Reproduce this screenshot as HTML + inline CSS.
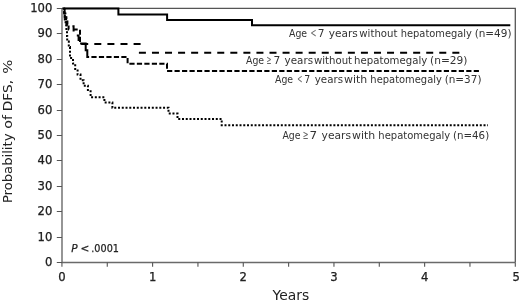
<!DOCTYPE html>
<html><head><meta charset="utf-8"><style>
html,body{margin:0;padding:0;background:#fff;width:520px;height:302px;overflow:hidden}
svg{position:absolute;left:0;top:0;display:block}
text{font-family:"DejaVu Sans","Liberation Sans",sans-serif;fill:#222}
.tk text{stroke:#111;stroke-width:0.25}
.pv text{stroke:#222;stroke-width:0.25}
.lab text{fill:#333}
</style></head><body>
<svg width="520" height="302" viewBox="0 0 520 302">
<rect width="520" height="302" fill="#fff"/>
<g fill="none">
<path d="M62 8.45H515.3V262.5" stroke="#555" stroke-width="1.3"/>
<path d="M62 8.4V262.5H515.3" stroke="#6a6a6a" stroke-width="1.4"/>
</g>
<g stroke="#555" stroke-width="1.1">
<path d="M56.8 8.5H62M56.8 33.5H62M56.8 59.5H62M56.8 84.5H62M56.8 110.5H62M56.8 135.5H62M56.8 160.5H62M56.8 186.5H62M56.8 211.5H62M56.8 237.5H62M56.8 262.5H62"/>
<path d="M61.93 262.5V266.8M107.27 262.5V266.8M152.60 262.5V266.8M197.94 262.5V266.8M243.28 262.5V266.8M288.62 262.5V266.8M333.95 262.5V266.8M379.29 262.5V266.8M424.63 262.5V266.8M469.96 262.5V266.8M515.30 262.5V266.8"/>
</g>
<g font-size="11.6" text-anchor="end" class="tk">
<text x="52.3" y="11.9">100</text>
<text x="52.3" y="36.9">90</text>
<text x="52.3" y="62.9">80</text>
<text x="52.3" y="87.9">70</text>
<text x="52.3" y="113.9">60</text>
<text x="52.3" y="138.9">50</text>
<text x="52.3" y="163.9">40</text>
<text x="52.3" y="189.9">30</text>
<text x="52.3" y="214.9">20</text>
<text x="52.3" y="240.9">10</text>
<text x="52.3" y="265.9">0</text>
</g>
<g font-size="11.6" text-anchor="middle" class="tk">
<text x="61.93" y="280.6">0</text>
<text x="152.60" y="280.6">1</text>
<text x="243.28" y="280.6">2</text>
<text x="333.95" y="280.6">3</text>
<text x="424.63" y="280.6">4</text>
<text x="516.10" y="280.6">5</text>
</g>
<text font-size="13.4" x="272.6" y="299.5" textLength="36.6" lengthAdjust="spacingAndGlyphs">Years</text>
<text font-size="13" transform="translate(12.3,203.12) rotate(-90)" textLength="69.59" lengthAdjust="spacingAndGlyphs">Probability</text>
<text font-size="13" transform="translate(12.3,128.86) rotate(-90)" textLength="13.83" lengthAdjust="spacingAndGlyphs">of</text>
<text font-size="13" transform="translate(12.3,111.28) rotate(-90)" textLength="31.35" lengthAdjust="spacingAndGlyphs">DFS,</text>
<text font-size="13" transform="translate(12.3,73.80) rotate(-90)" textLength="14.20" lengthAdjust="spacingAndGlyphs">%</text>
<g font-size="10.5" style="font-family:'Liberation Sans',sans-serif" class="pv">
<text x="71.3" y="251.6" font-style="italic">P</text>
<text x="80.6" y="251.6">&lt;</text>
<text x="91.3" y="251.6" textLength="27.6" lengthAdjust="spacingAndGlyphs">.0001</text>
</g>
<g class="lab" style="fill:#333">
<text x="289.01" y="37.2" font-size="10" textLength="18.10" lengthAdjust="spacingAndGlyphs">Age</text>
<text x="310.62" y="37.2" font-size="12.5" textLength="5.95" lengthAdjust="spacingAndGlyphs" style="fill:#666">&lt;</text>
<text x="317.65" y="37.2" font-size="10" textLength="6.77" lengthAdjust="spacingAndGlyphs">7</text>
<text x="328.78" y="37.2" font-size="10" textLength="29.07" lengthAdjust="spacingAndGlyphs">years</text>
<text x="359.34" y="37.2" font-size="10" textLength="38.10" lengthAdjust="spacingAndGlyphs">without</text>
<text x="400.71" y="37.2" font-size="10" textLength="71.26" lengthAdjust="spacingAndGlyphs">hepatomegaly</text>
<text x="474.66" y="37.2" font-size="10" textLength="36.82" lengthAdjust="spacingAndGlyphs">(n=49)</text>
<text x="246.01" y="64.2" font-size="10" textLength="18.10" lengthAdjust="spacingAndGlyphs">Age</text>
<text x="266.55" y="64.2" font-size="12.5" textLength="4.99" lengthAdjust="spacingAndGlyphs" style="fill:#666">≥</text>
<text x="273.40" y="64.2" font-size="10" textLength="6.77" lengthAdjust="spacingAndGlyphs">7</text>
<text x="284.59" y="64.2" font-size="10" textLength="28.45" lengthAdjust="spacingAndGlyphs">years</text>
<text x="313.99" y="64.2" font-size="10" textLength="38.10" lengthAdjust="spacingAndGlyphs">without</text>
<text x="354.09" y="64.2" font-size="10" textLength="73.19" lengthAdjust="spacingAndGlyphs">hepatomegaly</text>
<text x="430.04" y="64.2" font-size="10" textLength="37.45" lengthAdjust="spacingAndGlyphs">(n=29)</text>
<text x="275.01" y="82.8" font-size="10" textLength="18.10" lengthAdjust="spacingAndGlyphs">Age</text>
<text x="297.33" y="82.8" font-size="12.5" textLength="5.14" lengthAdjust="spacingAndGlyphs" style="fill:#666">&lt;</text>
<text x="304.35" y="82.8" font-size="10" textLength="5.96" lengthAdjust="spacingAndGlyphs">7</text>
<text x="314.79" y="82.8" font-size="10" textLength="28.24" lengthAdjust="spacingAndGlyphs">years</text>
<text x="343.96" y="82.8" font-size="10" textLength="23.18" lengthAdjust="spacingAndGlyphs">with</text>
<text x="370.36" y="82.8" font-size="10" textLength="71.51" lengthAdjust="spacingAndGlyphs">hepatomegaly</text>
<text x="444.66" y="82.8" font-size="10" textLength="36.82" lengthAdjust="spacingAndGlyphs">(n=37)</text>
<text x="282.41" y="138.5" font-size="10" textLength="18.10" lengthAdjust="spacingAndGlyphs">Age</text>
<text x="302.80" y="138.5" font-size="12.5" textLength="5.85" lengthAdjust="spacingAndGlyphs" style="fill:#666">≥</text>
<text x="309.64" y="138.5" font-size="10" textLength="7.65" lengthAdjust="spacingAndGlyphs">7</text>
<text x="321.58" y="138.5" font-size="10" textLength="29.48" lengthAdjust="spacingAndGlyphs">years</text>
<text x="351.96" y="138.5" font-size="10" textLength="23.18" lengthAdjust="spacingAndGlyphs">with</text>
<text x="378.35" y="138.5" font-size="10" textLength="71.92" lengthAdjust="spacingAndGlyphs">hepatomegaly</text>
<text x="452.98" y="138.5" font-size="10" textLength="36.19" lengthAdjust="spacingAndGlyphs">(n=46)</text>
</g>
<g fill="none" stroke="#000" stroke-width="2" stroke-linejoin="miter" stroke-linecap="butt">

<!-- group 1 solid -->
<path d="M62.5 8.6H118.4V14.6H167.1V19.9H252V25.3H510.3"/>
<!-- group 2 long dash -->
<path d="M64.6 8.5V17.2H66.4V26.3H67" stroke-dasharray="5.5 1.5"/>
<path d="M67 26.3H73.6V35.5H78.6V43.9H81.2" stroke-dasharray="0 5.4 6.5 7.1 7.3 100"/>
<path d="M81.2 43.9H140.8" stroke-dasharray="7 6.1"/>
<path d="M138.9 52.8H460" stroke-dasharray="7 6.06"/>
<!-- group 3 short dash -->
<path d="M64.2 8.5V13.5H65.4V19H67.4V24.5H68.6V29.6H70.6" stroke-dasharray="4.5 1.8" stroke-dashoffset="-2.5"/>
<path d="M70.6 29.6H80V43.5H85.7V50.2H87.3V56.9H88" stroke-dasharray="0 3 4.1 2.4 5.1 2 5.3 1.5 100"/>
<path d="M88 56.9H127.6V63.8H167V71H480" stroke-dasharray="5.2 2.28" stroke-dashoffset="-3.4"/>
<!-- group 4 dotted -->
<path d="M63.5 8.4H64.2V13.9H64.8V19.4H65.6V24.9H66.4V30.5H67V36H67.2V41.5H68.8V47H70V58.1H73V63.6H75.2V69.1H77.6V74.6H80.5V80.2H83.6V85.7H87.9V91.2H90.6V97.2H104.4V102.4H112.4V107.8H168.5V113.4H177.5V118.9H221.7V125.2H488" stroke-dasharray="2 1.754"/>

</g>
</svg>
</body></html>
